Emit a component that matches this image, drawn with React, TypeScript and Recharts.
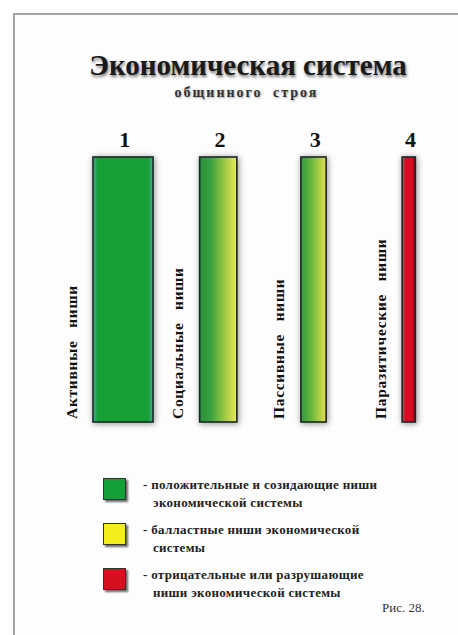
import React from 'react'
import { BarChart, Bar, XAxis, YAxis } from 'recharts'

// data
const columnNumbers = ['1', '2', '3', '4']
const nicheNames = ['Активные ниши', 'Социальные ниши', 'Пассивные ниши', 'Паразитические ниши']
const nicheHeights = [100, 100, 100, 100]
// relative thickness of each column (1 = widest)
const nicheWeights = [1, 0.62, 0.42, 0.22]

const legendColors = ['#13a038', '#f3ee1e', '#d41020']
const legendTexts = [
  ['- положительные и созидающие ниши', 'экономической системы'],
  ['- балластные ниши экономической', 'системы'],
  ['- отрицательные или разрушающие', 'ниши экономической системы'],
]

const chartData = columnNumbers.map((num, i) => ({
  num,
  name: nicheNames[i],
  value: nicheHeights[i],
  weight: nicheWeights[i],
}))

const barFills = ['url(#fillActive)', 'url(#fillSocial)', 'url(#fillPassive)', 'url(#fillParasite)']
const serif = '"Liberation Serif", "Times New Roman", serif'

function NicheBar(props: any) {
  const { x, y, width, height, payload, index } = props
  const w = width * payload.weight
  const bx = x + (width - w) / 2 - 2
  const lx = bx - 22
  const ly = y + height - 3
  return (
    <g>
      <rect
        x={bx}
        y={y}
        width={w}
        height={height}
        fill={barFills[index]}
        stroke="#1c2626"
        strokeWidth={1.6}
        filter="url(#barShadow)"
      />
      <text
        x={lx}
        y={ly}
        transform={`rotate(-90 ${lx} ${ly})`}
        fontFamily={serif}
        fontWeight="bold"
        fontSize={15.5}
        letterSpacing={0.7}
        wordSpacing={8}
        fill="#111"
        dominantBaseline="central"
      >
        {payload.name}
      </text>
    </g>
  )
}

function NumberTick({ x, y, payload }: any) {
  return (
    <text x={x} y={y} textAnchor="middle" fontFamily={serif} fontWeight="bold" fontSize={22} fill="#111">
      {payload.value}
    </text>
  )
}

export default function App() {
  return (
    <div style={{ position: 'absolute', left: 0, top: 0, width: 458, height: 635, background: '#fff', overflow: 'hidden' }}>
      {/* page frame */}
      <div
        style={{
          position: 'absolute',
          left: 13,
          top: 13,
          width: 445,
          height: 622,
          borderTop: '2px solid #a4a4a4',
          borderLeft: '2px solid #a4a4a4',
          background: '#fdfdfd',
        }}
      />

      <div
        style={{
          position: 'absolute',
          left: 0,
          width: 496,
          top: 49,
          textAlign: 'center',
          fontFamily: serif,
          fontWeight: 'bold',
          fontSize: 29,
          color: '#1a1a1a',
          textShadow: '1px 2px 3px rgba(0,0,0,0.55)',
          whiteSpace: 'nowrap',
        }}
      >
        Экономическая система
      </div>
      <div
        style={{
          position: 'absolute',
          left: 0,
          width: 493,
          top: 85,
          textAlign: 'center',
          fontFamily: serif,
          fontWeight: 'bold',
          fontSize: 14,
          letterSpacing: 2,
          wordSpacing: 5,
          color: '#333',
          textShadow: '1px 1px 2px rgba(0,0,0,0.35)',
        }}
      >
        общинного строя
      </div>

      <div style={{ position: 'absolute', left: 0, top: 0 }}>
        <BarChart
          width={458}
          height={440}
          data={chartData}
          margin={{ top: 127, right: 0, bottom: 18, left: 77 }}
        >
          <defs>
            <linearGradient id="fillActive" x1="0" y1="0" x2="1" y2="0">
              <stop offset="0" stopColor="#46ae9e" />
              <stop offset="0.08" stopColor="#12a034" />
              <stop offset="0.92" stopColor="#12a034" />
              <stop offset="1" stopColor="#46ae9e" />
            </linearGradient>
            <linearGradient id="fillSocial" x1="0" y1="0" x2="1" y2="0">
              <stop offset="0" stopColor="#2a8e3c" />
              <stop offset="0.3" stopColor="#3aa040" />
              <stop offset="0.7" stopColor="#a4cc44" />
              <stop offset="1" stopColor="#ebe860" />
            </linearGradient>
            <linearGradient id="fillPassive" x1="0" y1="0" x2="1" y2="0">
              <stop offset="0" stopColor="#2c9a3c" />
              <stop offset="0.45" stopColor="#70b83c" />
              <stop offset="1" stopColor="#e4e250" />
            </linearGradient>
            <linearGradient id="fillParasite" x1="0" y1="0" x2="1" y2="0">
              <stop offset="0" stopColor="#8c6a6a" />
              <stop offset="0.25" stopColor="#d81020" />
              <stop offset="0.75" stopColor="#d81020" />
              <stop offset="1" stopColor="#7a1018" />
            </linearGradient>
            <filter id="barShadow" x="-60%" y="-10%" width="220%" height="120%">
              <feGaussianBlur in="SourceAlpha" stdDeviation="3" />
              <feOffset dx="1" dy="1" />
              <feComponentTransfer>
                <feFuncA type="linear" slope="0.45" />
              </feComponentTransfer>
              <feMerge>
                <feMergeNode />
                <feMergeNode in="SourceGraphic" />
              </feMerge>
            </filter>
          </defs>
          <XAxis
            dataKey="num"
            orientation="top"
            height={30}
            axisLine={false}
            tickLine={false}
            tickSize={0}
            tickMargin={10}
            interval={0}
            tick={<NumberTick />}
          />
          <YAxis hide domain={[0, 100]} />
          <Bar dataKey="value" barSize={60} shape={<NicheBar />} isAnimationActive={false} />
        </BarChart>
      </div>

      {/* legend */}
      <div style={{ position: 'absolute', left: 103, top: 476 }}>
        {legendColors.map((c, i) => (
          <div key={i} style={{ display: 'flex', alignItems: 'flex-start', height: 45 }}>
            <span
              style={{
                width: 21,
                height: 20,
                marginTop: 2,
                background: c,
                border: '1px solid #333',
                boxShadow: '2px 2px 2px rgba(0,0,0,0.6)',
                flexShrink: 0,
              }}
            />
            <div
              style={{
                marginLeft: 17,
                fontFamily: serif,
                fontWeight: 'bold',
                fontSize: 13,
                lineHeight: '18px',
                color: '#222',
                letterSpacing: 0.3,
              }}
            >
              <div>{legendTexts[i][0]}</div>
              <div style={{ paddingLeft: 10 }}>{legendTexts[i][1]}</div>
            </div>
          </div>
        ))}
      </div>

      <div
        style={{
          position: 'absolute',
          left: 382,
          top: 600,
          fontFamily: serif,
          fontSize: 13,
          color: '#333',
        }}
      >
        Рис. 28.
      </div>
    </div>
  )
}
